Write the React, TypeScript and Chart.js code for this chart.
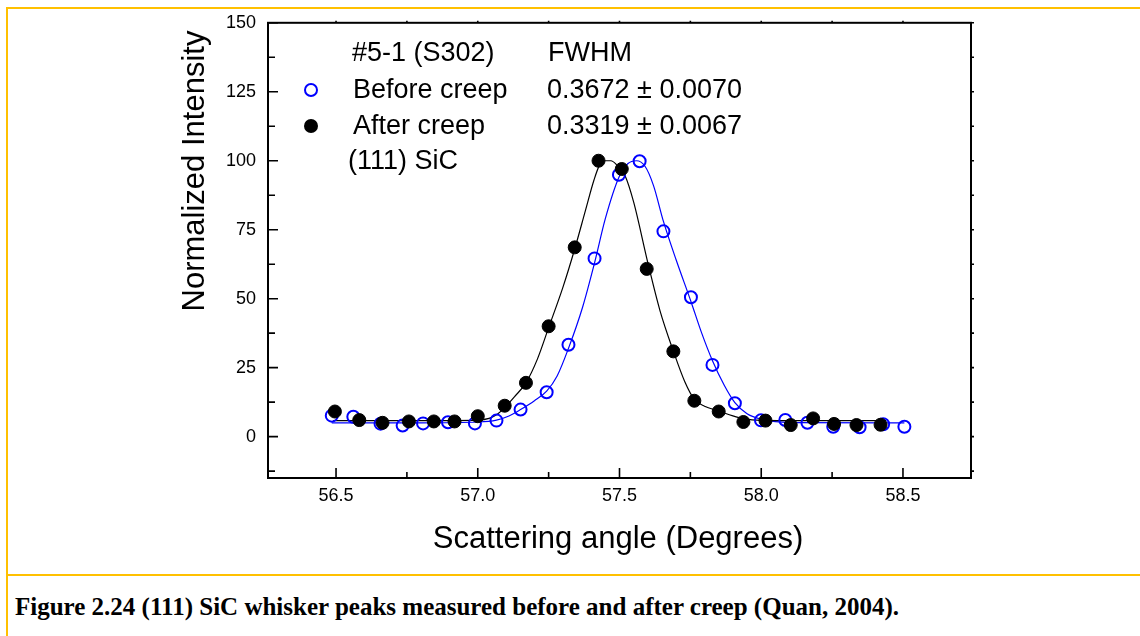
import React, { useEffect, useRef } from "react";
import { Chart, registerables } from "chart.js";

Chart.register(...registerables);

const beforeX = [56.485, 56.561, 56.657, 56.735, 56.807, 56.895, 56.99, 57.066, 57.151, 57.243, 57.32, 57.412, 57.498, 57.571, 57.655, 57.752, 57.828, 57.907, 57.999, 58.085, 58.163, 58.254, 58.347, 58.43, 58.505];
const beforeY = [7.6, 7.2, 4.7, 4.0, 4.8, 5.2, 4.8, 5.8, 9.8, 16.1, 33.3, 64.6, 94.9, 99.8, 74.4, 50.5, 26.0, 12.1, 5.9, 6.0, 5.0, 3.6, 3.4, 4.5, 3.6];

const afterX = [56.496, 56.582, 56.664, 56.757, 56.845, 56.918, 57.0, 57.095, 57.17, 57.25, 57.342, 57.426, 57.508, 57.596, 57.69, 57.764, 57.85, 57.937, 58.015, 58.104, 58.183, 58.257, 58.336, 58.421];
const afterY = [9.1, 6.0, 5.0, 5.5, 5.5, 5.5, 7.4, 11.2, 19.5, 40.0, 68.6, 100, 97, 60.8, 30.9, 13.0, 9.1, 5.3, 5.8, 4.2, 6.6, 4.6, 4.2, 4.3];

// Fitted curves
const beforeFitX = [56.485, 56.8, 57.0, 57.066, 57.11, 57.151, 57.2, 57.243, 57.28, 57.32, 57.37, 57.412, 57.45, 57.498, 57.53, 57.56, 57.59, 57.62, 57.655, 57.7, 57.752, 57.79, 57.828, 57.87, 57.907, 57.95, 58.0, 58.05, 58.1, 58.505];
const beforeFitY = [5.0, 5.0, 5.3, 6.0, 7.5, 9.8, 13, 16.5, 22, 32, 47, 63, 79, 94, 99, 100, 98, 91, 78, 64, 49, 37.5, 27.5, 18.5, 12.3, 8.3, 6.3, 5.4, 5.1, 5.0];

const afterFitX = [56.49, 56.8, 57.0, 57.04, 57.07, 57.095, 57.13, 57.17, 57.21, 57.25, 57.3, 57.342, 57.38, 57.41, 57.43, 57.45, 57.47, 57.49, 57.52, 57.55, 57.6, 57.643, 57.69, 57.73, 57.764, 57.8, 57.85, 57.9, 57.937, 58.0, 58.2, 58.44];
const afterFitY = [5.8, 5.8, 6.0, 6.6, 8.2, 10.5, 14.5, 19.5, 28, 39.5, 54, 68, 82, 93, 98.5, 100, 100, 98.5, 94.5, 85, 63, 45.6, 31, 20, 13.5, 11, 9.3, 7.5, 6.5, 5.9, 5.8, 5.8];

const xTickLabels = [56.5, 57.0, 57.5, 58.0, 58.5];
const xMinorTicks = [56.75, 57.25, 57.75, 58.25];
const yTickLabels = [0, 25, 50, 75, 100, 125, 150];
const yMinorTicks = [-12.5, 12.5, 37.5, 62.5, 87.5, 112.5, 137.5];

const legendHeader = ["#5-1 (S302)", "FWHM"];
const legendBefore = ["Before creep", "0.3672 ± 0.0070"];
const legendAfter = ["After creep", "0.3319 ± 0.0067"];
const legendNote = "(111) SiC";

const xTitle = "Scattering angle (Degrees)";
const yTitle = "Normalized Intensity";
const caption = "Figure 2.24 (111) SiC whisker peaks measured before and after creep (Quan, 2004).";

const BLUE = "#0000FF";
const FONT = '"Liberation Sans", Arial, sans-serif';

const pairs = (xs: number[], ys: number[]) => xs.map((x, i) => ({ x, y: ys[i] }));

const decorPlugin = {
  id: "decor",
  afterDraw(chart: any) {
    const { ctx, chartArea, scales } = chart;
    const { left, right, top, bottom } = chartArea;
    const xs = scales.x;
    const ys = scales.y;
    ctx.save();
    ctx.strokeStyle = "#000";
    ctx.lineWidth = 2;
    ctx.strokeRect(left, top, right - left, bottom - top);

    ctx.lineWidth = 1.6;
    ctx.beginPath();
    xTickLabels.forEach((v) => {
      const p = xs.getPixelForValue(v);
      ctx.moveTo(p, bottom);
      ctx.lineTo(p, bottom - 10);
      ctx.moveTo(p, top);
      ctx.lineTo(p, top - 2);
    });
    xMinorTicks.forEach((v) => {
      const p = xs.getPixelForValue(v);
      ctx.moveTo(p, bottom);
      ctx.lineTo(p, bottom - 6);
      ctx.moveTo(p, top);
      ctx.lineTo(p, top - 2);
    });
    yTickLabels.forEach((v) => {
      const p = ys.getPixelForValue(v);
      ctx.moveTo(left, p);
      ctx.lineTo(left + 10, p);
      ctx.moveTo(right, p);
      ctx.lineTo(right + 3, p);
    });
    yMinorTicks.forEach((v) => {
      const p = ys.getPixelForValue(v);
      ctx.moveTo(left, p);
      ctx.lineTo(left + 7, p);
      ctx.moveTo(right, p);
      ctx.lineTo(right + 3, p);
    });
    ctx.stroke();

    // axis titles
    ctx.fillStyle = "#000";
    ctx.font = `31px ${FONT}`;
    ctx.textAlign = "center";
    ctx.textBaseline = "middle";
    ctx.fillText(xTitle, 618, 539);
    ctx.save();
    ctx.translate(195, 171);
    ctx.rotate(-Math.PI / 2);
    ctx.fillText(yTitle, 0, 0);
    ctx.restore();

    // legend
    ctx.font = `27px ${FONT}`;
    ctx.textAlign = "left";
    ctx.fillText(legendHeader[0], 352, 54);
    ctx.fillText(legendHeader[1], 548, 54);
    ctx.fillText(legendBefore[0], 353, 91);
    ctx.fillText(legendBefore[1], 547, 91);
    ctx.fillText(legendAfter[0], 353, 127);
    ctx.fillText(legendAfter[1], 547, 127);
    ctx.fillText(legendNote, 348, 162);

    ctx.beginPath();
    ctx.arc(311, 90, 6, 0, Math.PI * 2);
    ctx.strokeStyle = BLUE;
    ctx.lineWidth = 2;
    ctx.stroke();
    ctx.beginPath();
    ctx.arc(311, 126, 7, 0, Math.PI * 2);
    ctx.fillStyle = "#000";
    ctx.fill();
    ctx.restore();
  },
};

function ChartView() {
  const ref = useRef<HTMLCanvasElement | null>(null);
  useEffect(() => {
    if (!ref.current) return;
    const chart = new Chart(ref.current, {
      type: "scatter",
      data: {
        datasets: [
          {
            label: "After creep",
            data: pairs(afterX, afterY),
            pointRadius: 6.5,
            pointBackgroundColor: "#000",
            pointBorderColor: "#000",
            pointBorderWidth: 1,
            showLine: false,
            order: 0,
          },
          {
            label: "Before creep",
            data: pairs(beforeX, beforeY),
            pointRadius: 6,
            pointBackgroundColor: "rgba(0,0,0,0)",
            pointBorderColor: BLUE,
            pointBorderWidth: 2,
            showLine: false,
            order: 1,
          },
          {
            label: "After fit",
            data: pairs(afterFitX, afterFitY),
            showLine: true,
            borderColor: "#000",
            borderWidth: 1.2,
            pointRadius: 0,
            cubicInterpolationMode: "monotone",
            order: 2,
          },
          {
            label: "Before fit",
            data: pairs(beforeFitX, beforeFitY),
            showLine: true,
            borderColor: BLUE,
            borderWidth: 1.2,
            pointRadius: 0,
            cubicInterpolationMode: "monotone",
            order: 3,
          },
        ],
      } as any,
      options: {
        responsive: false,
        animation: false,
        layout: { padding: { top: 22, right: 169, left: 0, bottom: 0 } },
        plugins: { legend: { display: false }, tooltip: { enabled: false } },
        scales: {
          x: {
            type: "linear",
            min: 56.26,
            max: 58.74,
            grid: { display: false, drawTicks: false },
            border: { display: false },
            ticks: {
              color: "#000",
              font: { family: FONT, size: 18 },
              padding: 7,
              callback: (v: any) => Number(v).toFixed(1),
            },
            afterBuildTicks: (s: any) => {
              s.ticks = xTickLabels.map((v) => ({ value: v }));
            },
            afterFit: (s: any) => {
              s.height = 92;
            },
          },
          y: {
            type: "linear",
            min: -15,
            max: 150,
            grid: { display: false, drawTicks: false },
            border: { display: false },
            ticks: {
              color: "#000",
              font: { family: FONT, size: 18 },
              padding: 12,
              callback: (v: any) => String(v),
            },
            afterBuildTicks: (s: any) => {
              s.ticks = yTickLabels.map((v) => ({ value: v }));
            },
            afterFit: (s: any) => {
              s.width = 268;
            },
          },
        },
      } as any,
      plugins: [decorPlugin],
    });
    return () => chart.destroy();
  }, []);
  return <canvas ref={ref} width={1140} height={570} style={{ position: "absolute", left: 0, top: 0 }} />;
}

export default function App() {
  const gold = "#FFC000";
  return (
    <div style={{ position: "absolute", left: 0, top: 0, width: 1140, height: 636, background: "#fff", overflow: "hidden" }}>
      <ChartView />
      <div style={{ position: "absolute", left: 6, top: 7, width: 1134, height: 2, background: gold }} />
      <div style={{ position: "absolute", left: 6, top: 7, width: 2, height: 629, background: gold }} />
      <div style={{ position: "absolute", left: 6, top: 574, width: 1134, height: 2, background: gold }} />
      <div
        style={{
          position: "absolute",
          left: 15,
          top: 593,
          fontFamily: '"Liberation Serif", "Times New Roman", serif',
          fontWeight: "bold",
          fontSize: 25,
          lineHeight: "28px",
          whiteSpace: "nowrap",
          color: "#000",
        }}
      >
        {caption}
      </div>
    </div>
  );
}
